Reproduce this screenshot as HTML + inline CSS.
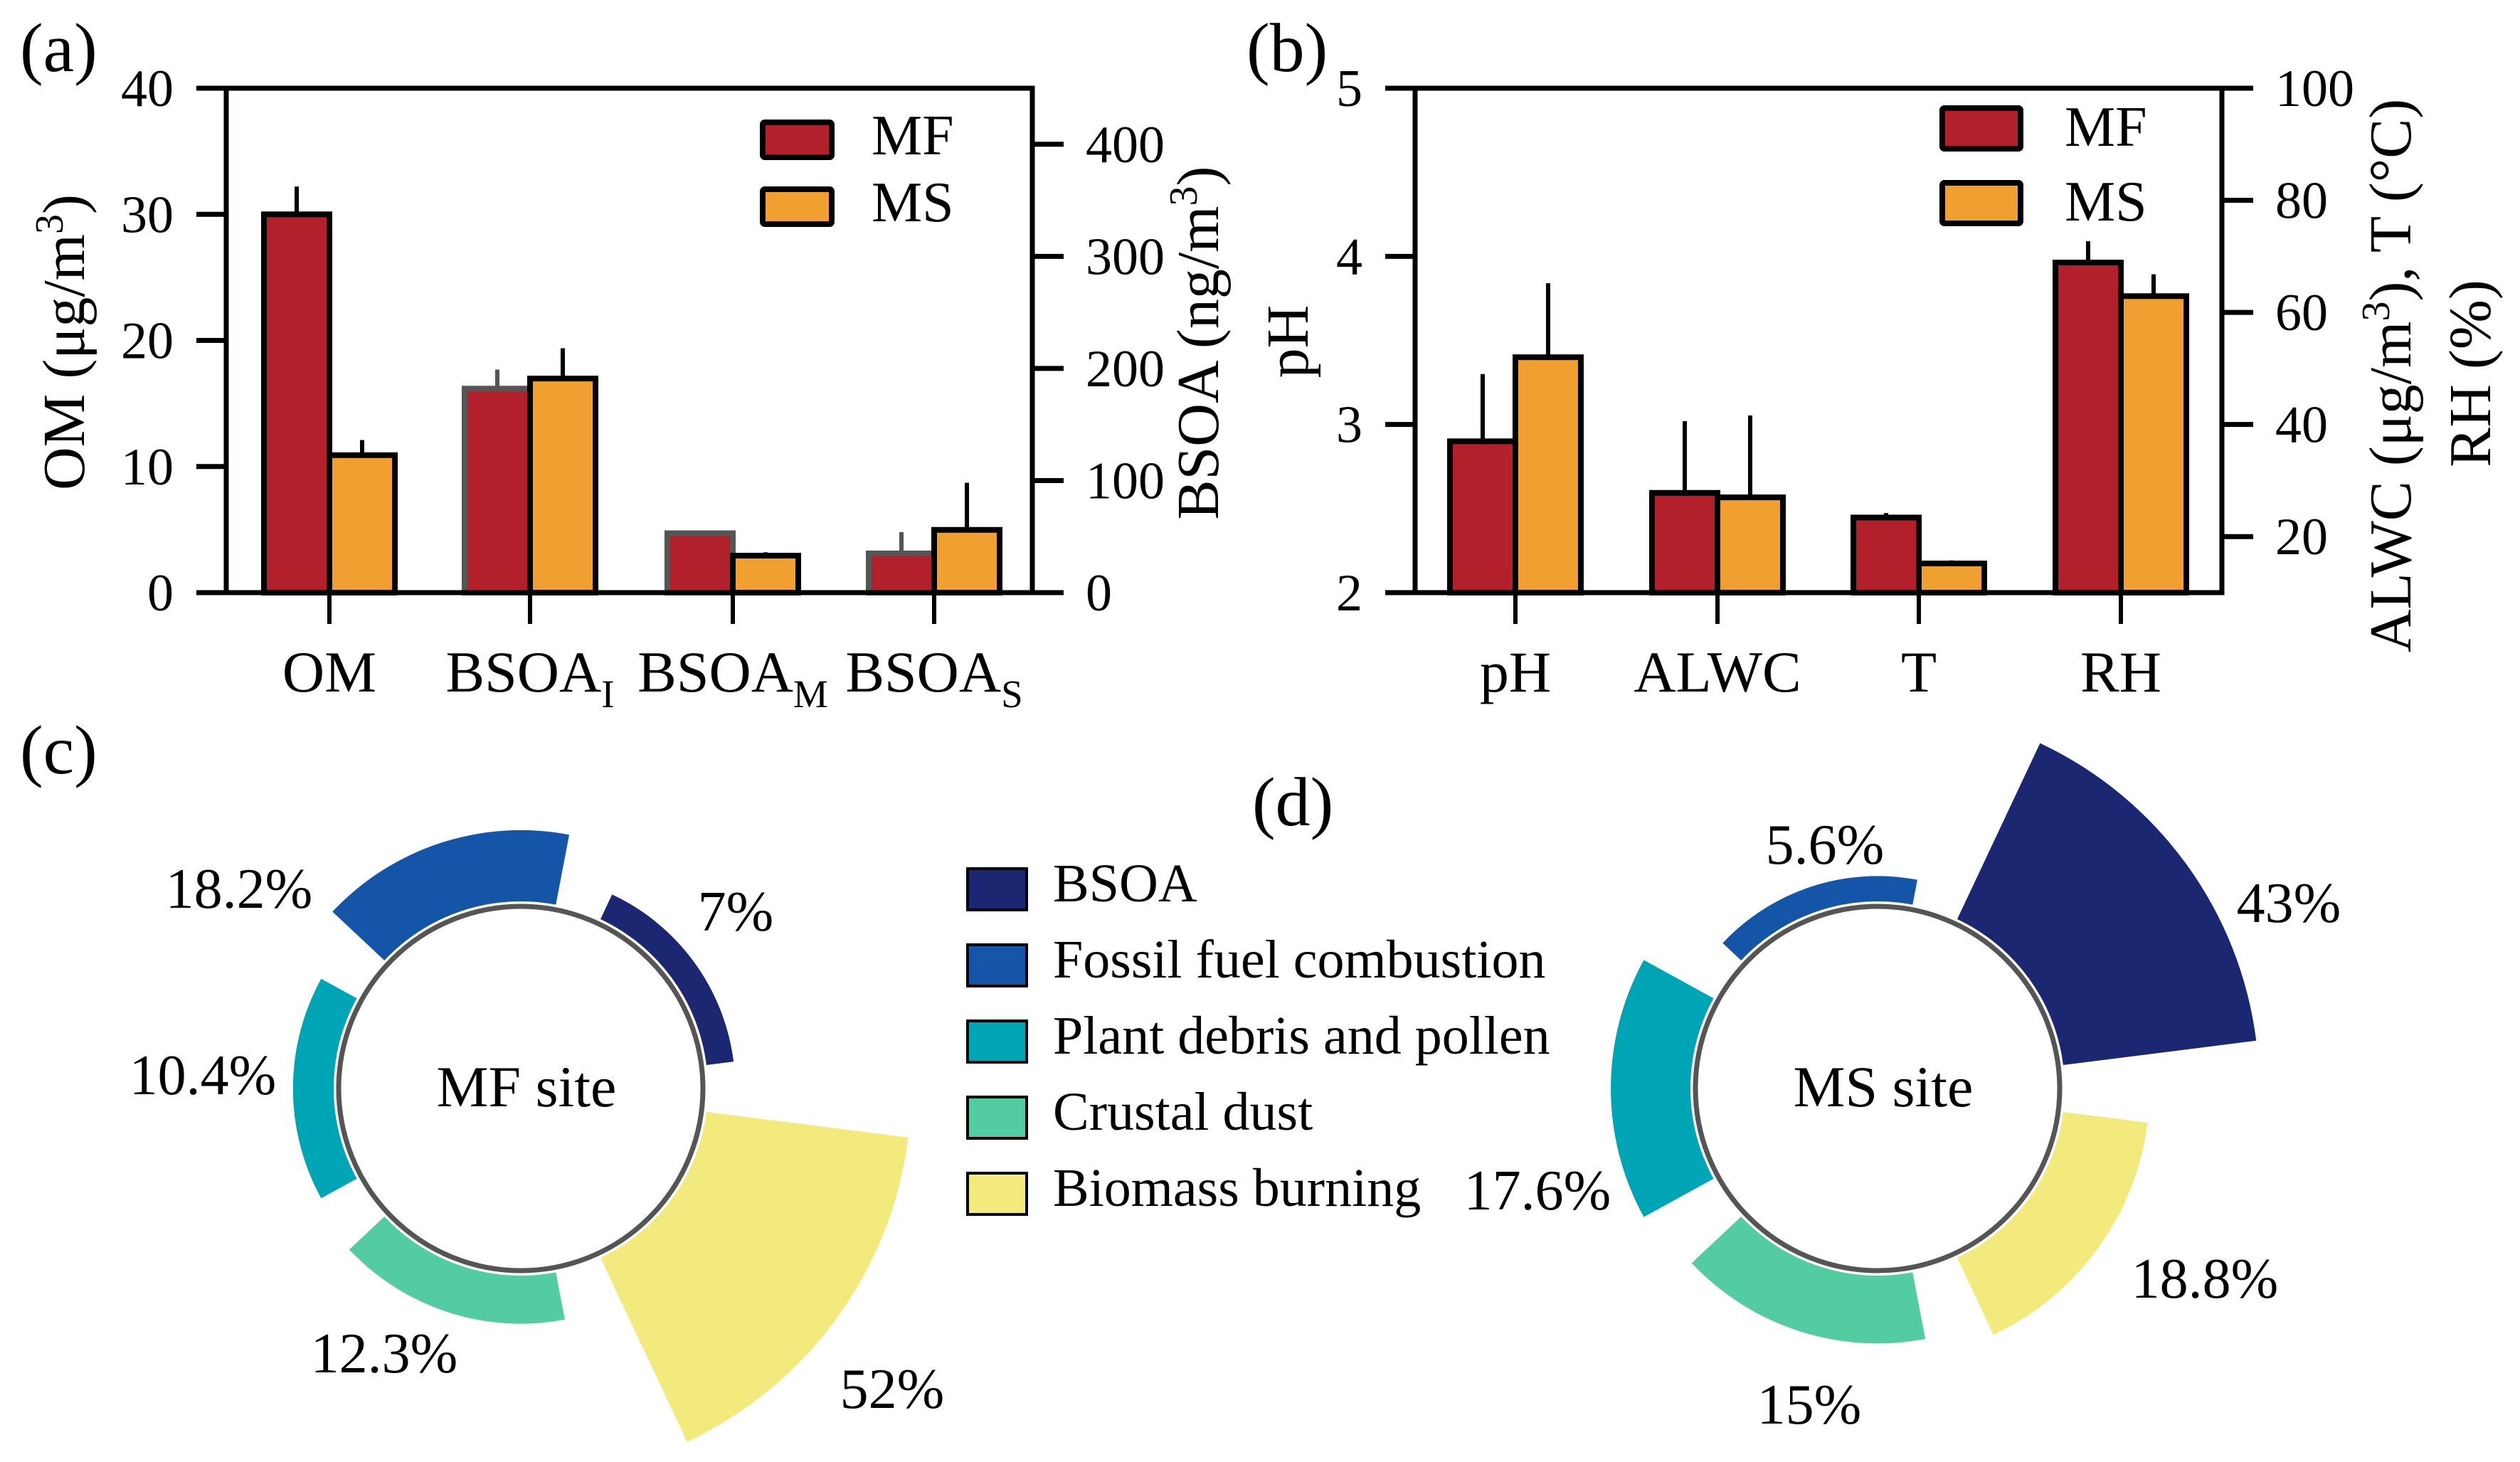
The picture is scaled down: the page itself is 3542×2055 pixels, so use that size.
<!DOCTYPE html>
<html><head><meta charset="utf-8">
<style>
html,body{margin:0;padding:0;background:#fff;}
svg, svg text{font-family:"Liberation Serif","Times New Roman",Times,serif;}
svg{display:block;}
</style></head>
<body>
<svg id="fig" width="3542" height="2055" viewBox="0 0 3542 2055" xmlns="http://www.w3.org/2000/svg" font-family="Liberation Serif, Times New Roman, serif">
<rect width="3542" height="2055" fill="#fff"/>
<g id="pa"></g>
<g id="pb"></g>
<g id="pc"></g>
<g id="pd"></g>
</svg>
<script>
// ---- Panel (a) data ----
const aCats = ["OM","BSOA_I","BSOA_M","BSOA_S"];
const aMF = [30, 182, 53, 35];
const aMFerr = [32.2, 199, 53, 54];
const aMS = [10.9, 191, 33, 56];
const aMSerr = [12.1, 218, 36, 98];
const aAxisUse = ["left","right","right","right"];
const aLeftTicks = [0,10,20,30,40];
const aRightTicks = [0,100,200,300,400];
// ---- Panel (b) data ----
const bCats = ["pH","ALWC","T","RH"];
const bMF = [2.9, 27.8, 23.4, 68.9];
const bMFerr = [3.3, 40.6, 24.2, 72.7];
const bMS = [3.4, 27.0, 15.2, 62.9];
const bMSerr = [3.84, 41.6, 15.75, 66.8];
const bAxisUse = ["left","right","right","right"];
const bLeftTicks = [2,3,4,5];
const bRightTicks = [20,40,60,80,100];
// ---- Pie data ----
const srcNames = ["BSOA","Fossil fuel combustion","Plant debris and pollen","Crustal dust","Biomass burning"];
const srcColors = ["#1b2770","#1555a8","#00a5b5","#52cca0","#f2ea7d"];
const srcAngles = [54, 342, 270, 198, 126];
const mfVals = [7, 18.2, 10.4, 12.3, 52];
const mfLabels = ["7%","18.2%","10.4%","12.3%","52%"];
const msVals = [43, 5.6, 17.6, 15, 18.8];
const msLabels = ["43%","5.6%","17.6%","15%","18.8%"];

const NS="http://www.w3.org/2000/svg";
const FONT="Liberation Serif, Times New Roman, Times, serif";
function el(parent, tag, attrs, text){
  const e=document.createElementNS(NS,tag);
  for(const k in attrs) e.setAttribute(k,attrs[k]);
  if(tag==="text") e.setAttribute("font-family",FONT);
  if(text!==undefined) e.textContent=text;
  parent.appendChild(e); return e;
}
const RED="#b2202c", ORG="#f0a030";

function barPanel(g, o){
  const yL=v=>o.bot-(v-o.lMin)/(o.lMax-o.lMin)*(o.bot-o.top);
  const yR=v=>o.bot-(v-o.rMin)/(o.rMax-o.rMin)*(o.bot-o.top);
  const bw=92;
  o.cats.forEach((c,i)=>{
    const cx=o.cx[i];
    const f=o.use[i]==="left"?yL:yR;
    const edgeMF=o.grayMF&&o.use[i]==="right"?"#555":"#000";
    const errMF=el(g,"line",{x1:cx-bw/2,x2:cx-bw/2,y1:f(o.mf[i]),y2:f(o.mfe[i]),stroke:edgeMF,"stroke-width":6});
    
    
    const errMS=el(g,"line",{x1:cx+bw/2,x2:cx+bw/2,y1:f(o.ms[i]),y2:f(o.mse[i]),stroke:"#000","stroke-width":6});
    
    
    const r1=el(g,"rect",{x:cx-bw,y:f(o.mf[i]),width:bw,height:o.bot-f(o.mf[i]),fill:RED,stroke:edgeMF,"stroke-width":8});
    
    
    const r2=el(g,"rect",{x:cx,y:f(o.ms[i]),width:bw,height:o.bot-f(o.ms[i]),fill:ORG,stroke:"#000","stroke-width":8});
    
    
    el(g,"line",{x1:cx,x2:cx,y1:o.bot,y2:o.bot+44,stroke:"#000","stroke-width":6});
    const t=el(g,"text",{x:cx,y:972,"font-size":82,"text-anchor":"middle"});
    
    
    const parts=c.split("_");
    el(t,"tspan",{},parts[0]);
    if(parts[1]) el(t,"tspan",{"font-size":55,dy:22},parts[1]);
  });
  el(g,"rect",{x:o.left,y:o.top,width:o.right-o.left,height:o.bot-o.top,fill:"none",stroke:"#000","stroke-width":7});
  o.lt.forEach(v=>{
    el(g,"line",{x1:o.left-42,x2:o.left,y1:yL(v),y2:yL(v),stroke:"#000","stroke-width":7});
    const t=el(g,"text",{x:o.left-74,y:yL(v)+25,"font-size":74,"text-anchor":"end"},String(v));
    
    
  });
  o.rt.forEach(v=>{
    el(g,"line",{x1:o.right,x2:o.right+44,y1:yR(v),y2:yR(v),stroke:"#000","stroke-width":7});
    const t=el(g,"text",{x:o.right+75,y:yR(v)+25,"font-size":74},String(v));
    
    
  });
  [["MF",RED],["MS",ORG]].forEach((L,k)=>{
    const r=el(g,"rect",{x:o.lgx,y:o.lgy+k*o.lgdy,width:o.lgw,height:o.lgh,fill:L[1],stroke:"#000","stroke-width":8,rx:3});
    
    
    const t=el(g,"text",{x:o.lgtx,y:o.lgy+o.lgh-4+k*o.lgdy,"font-size":80},L[0]);
    
    
  });
}

const ga=document.getElementById("pa");
barPanel(ga,{cats:aCats,mf:aMF,mfe:aMFerr,ms:aMS,mse:aMSerr,use:aAxisUse,lt:aLeftTicks,rt:aRightTicks,
  left:318,right:1451,top:124,bot:833,lMin:0,lMax:40,rMin:0,rMax:450,cx:[463,745,1030,1313],grayMF:true,
  lgx:1072,lgy:172,lgw:97,lgh:49,lgdy:94,lgtx:1225});
const gb=document.getElementById("pb");
barPanel(gb,{cats:bCats,mf:bMF,mfe:bMFerr,ms:bMS,mse:bMSerr,use:bAxisUse,lt:bLeftTicks,rt:bRightTicks,
  left:1989,right:3123,top:124,bot:833,lMin:2,lMax:5,rMin:10,rMax:100,cx:[2130,2414,2697,2981],grayMF:false,
  lgx:2730,lgy:152,lgw:110,lgh:57,lgdy:105,lgtx:2902});

function txt(g,x,y,s,size,name,extra){
  const t=el(g,"text",Object.assign({x:x,y:y,"font-size":size},extra||{}));
  
  
  t.innerHTML=s; return t;
}
txt(ga,28,100,"(a)",98,"panel-label-a");
txt(gb,1752,100,"(b)",98,"panel-label-b");
txt(ga,0,0,'OM (μg/m<tspan font-size="56" dy="-30">3</tspan><tspan dy="30">)</tspan>',84,"y-axis-title-left",{transform:"translate(118,481) rotate(-90)","text-anchor":"middle"});
txt(ga,0,0,'BSOA (ng/m<tspan font-size="56" dy="-30">3</tspan><tspan dy="30">)</tspan>',84,"y-axis-title-right",{transform:"translate(1712,482) rotate(-90)","text-anchor":"middle"});
txt(gb,0,0,'pH',84,"y-axis-title-left",{transform:"translate(1838,480) rotate(-90)","text-anchor":"middle"});
txt(gb,0,0,'ALWC (μg/m<tspan font-size="56" dy="-30">3</tspan><tspan dy="30">), T (°C)</tspan>',84,"y-axis-title-right",{transform:"translate(3388,528) rotate(-90)","text-anchor":"middle"});
txt(gb,0,0,'RH (%)',84,"y-axis-title-right-2",{transform:"translate(3500,525) rotate(-90)","text-anchor":"middle"});

function pie(g, cx, cy, vals, labels, k, labelPos, siteName){
  const r0=263;
  vals.forEach((v,i)=>{
    const R=r0+k*v;
    const a1=(srcAngles[i]-28.8)*Math.PI/180, a2=(srcAngles[i]+28.8)*Math.PI/180;
    const P=(r,a)=>[cx+r*Math.sin(a), cy-r*Math.cos(a)];
    const p1=P(r0,a1),p2=P(R,a1),p3=P(R,a2),p4=P(r0,a2);
    const d=`M${p1} L${p2} A${R},${R} 0 0 1 ${p3} L${p4} A${r0},${r0} 0 0 0 ${p1} Z`;
    const w=el(g,"path",{d:d,fill:srcColors[i]});
    
    
    const t=el(g,"text",{x:labelPos[i][0],y:labelPos[i][1],"font-size":80,"text-anchor":"middle"},labels[i]);
    
    
  });
  const c=el(g,"circle",{cx:cx,cy:cy,r:256,fill:"#fff",stroke:"#555","stroke-width":7});
  
  
  const t=el(g,"text",{x:cx+8,y:cy+25,"font-size":82,"text-anchor":"middle"},siteName);
  
  
}
const gc=document.getElementById("pc"), gd=document.getElementById("pd");
pie(gc,732,1530,mfVals,mfLabels,5.5,[[1034,1308],[336,1276],[285,1538],[540,1929],[1254,1979]],"MF site");
pie(gd,2639,1530,msVals,msLabels,6.36,[[3217,1296],[2565,1214],[2161,1700],[2543,2001],[3099,1824]],"MS site");
txt(gc,28,1087,"(c)",98,"panel-label-c");
txt(gd,1760,1160,"(d)",98,"panel-label-d");
srcNames.forEach((n,i)=>{
  const r=el(gc,"rect",{x:1360,y:1221+i*107,width:83,height:58,fill:srcColors[i],stroke:"#000","stroke-width":4});
  
  
  const t=el(gc,"text",{x:1480,y:1267+i*107,"font-size":76},n);
  
  
});
</script>
</body></html>
